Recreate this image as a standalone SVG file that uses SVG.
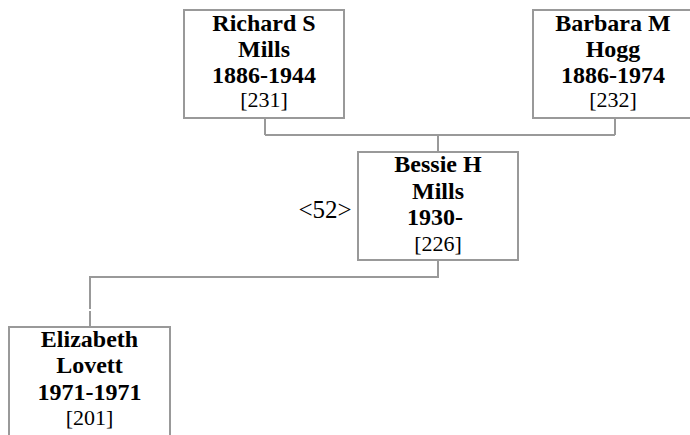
<svg xmlns="http://www.w3.org/2000/svg" width="690" height="435" viewBox="0 0 690 435">
<style>
.box{fill:#fff;stroke:#999;stroke-width:2}
.ln{fill:none;stroke:#999;stroke-width:2}
.t{font-family:'Liberation Serif','Times New Roman',serif;font-size:22px;fill:#000;text-anchor:middle}
.b{font-weight:bold;font-size:24px}
.g{font-size:25px}
</style>
<g id="connectors">
<path class="ln" d="M265 118V135M615 118V135M265 135H615M438 135V152"/>
<path class="ln" d="M438 260V277H90V309M90 311V327"/>
</g>
<g id="n231" class="t">
<rect class="box" x="184" y="10" width="160" height="108"/>
<text class="b" x="264" y="31">Richard S</text>
<text class="b" x="264" y="57">Mills</text>
<text class="b" x="264" y="83">1886-1944</text>
<text x="264" y="107">[231]</text>
</g>
<g id="n232" class="t">
<rect class="box" x="533" y="10" width="160" height="108"/>
<text class="b" x="613" y="31">Barbara M</text>
<text class="b" x="613" y="57">Hogg</text>
<text class="b" x="613" y="83">1886-1974</text>
<text x="613" y="107">[232]</text>
</g>
<g id="n226" class="t">
<rect class="box" x="358" y="152" width="160" height="108"/>
<text class="b" x="438" y="172">Bessie H</text>
<text class="b" x="438" y="199">Mills</text>
<text class="b" x="435" y="225">1930-</text>
<text x="438" y="251">[226]</text>
<text class="g" x="325" y="218">&lt;52&gt;</text>
</g>
<g id="n201" class="t">
<rect class="box" x="9" y="327" width="161" height="120"/>
<text class="b" x="89.5" y="347">Elizabeth</text>
<text class="b" x="89.5" y="373">Lovett</text>
<text class="b" x="89.5" y="400">1971-1971</text>
<text x="89.5" y="425">[201]</text>
</g>
</svg>
